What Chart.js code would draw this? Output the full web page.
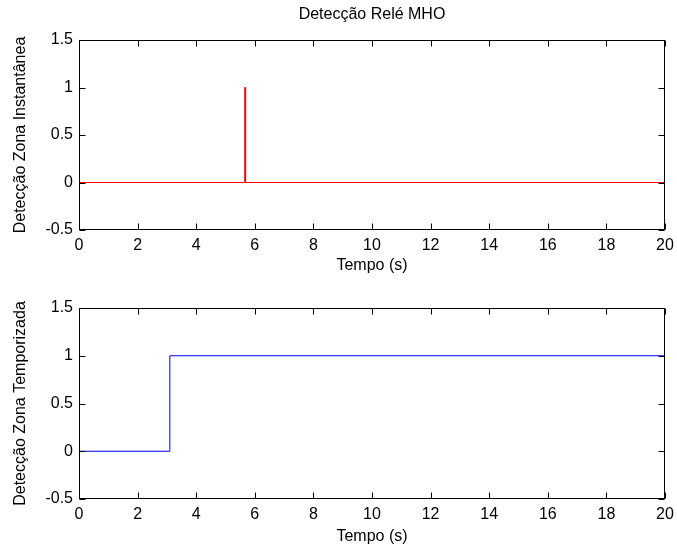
<!DOCTYPE html>
<html>
<head>
<meta charset="utf-8">
<script src="https://cdn.jsdelivr.net/npm/chart.js@4"></script>
<style>
  body { margin: 0; background: #fff; }
  #wrap { position: relative; width: 677px; height: 550px; }
  canvas { position: absolute; left: 0; }
</style>
</head>
<body>
<div id="wrap">
  <canvas id="inst" width="677" height="275" style="top:0px"></canvas>
  <canvas id="temp" width="677" height="282" style="top:268px"></canvas>
</div>
<script>
// Detecção zona instantânea (pulso curto)
let tempoInst = [0, 5.655, 5.655, 5.685, 5.685, 20];
let detInst = [0, 0, 1, 1, 0, 0];

// Detecção zona temporizada (degrau)
let tempoTemp = [0, 3.1, 3.1, 20];
let detTemp = [0, 0, 1, 1];

let xTicks = [0, 2, 4, 6, 8, 10, 12, 14, 16, 18, 20];
let yTicks = [-0.5, 0, 0.5, 1, 1.5];

const FONT = 'Arial, "Liberation Sans", Helvetica, sans-serif';
Chart.defaults.font.family = FONT;
Chart.defaults.font.size = 16;
Chart.defaults.color = '#000';

// caixa em volta do gráfico com marcas para dentro (estilo MATLAB)
const boxTicks = {
    id: 'boxTicks',
    afterDatasetsDraw(chart) {
        const ctx = chart.ctx;
        const a = chart.chartArea;
        const xs = chart.scales.x, ys = chart.scales.y;
        const L = Math.round(a.left) + 0.5, R = Math.round(a.right) - 0.5;
        const T = Math.round(a.top) + 0.5, B = Math.round(a.bottom) - 0.5;
        const len = 6;
        ctx.save();
        ctx.strokeStyle = '#000';
        ctx.lineWidth = 1;
        ctx.beginPath();
        xTicks.forEach(v => {
            const px = Math.round(xs.getPixelForValue(v)) + 0.5;
            ctx.moveTo(px, B); ctx.lineTo(px, B - len);
            ctx.moveTo(px, T); ctx.lineTo(px, T + len);
        });
        yTicks.forEach(v => {
            const py = Math.round(ys.getPixelForValue(v)) + 0.5;
            ctx.moveTo(L, py); ctx.lineTo(L + len, py);
            ctx.moveTo(R, py); ctx.lineTo(R - len, py);
        });
        ctx.stroke();
        ctx.strokeRect(L, T, R - L, B - T);
        ctx.restore();
    }
};

function makeChart(id, xs, ys, color, yTitle, title, xAxisH, xTitlePad) {
    const points = xs.map((x, i) => ({ x: x, y: ys[i] }));
    return new Chart(document.getElementById(id), {
        type: 'line',
        data: {
            datasets: [{
                data: points,
                borderColor: color,
                borderWidth: 1,
                pointRadius: 0,
                tension: 0,
                fill: false
            }]
        },
        options: {
            responsive: false,
            animation: false,
            layout: { padding: { top: title ? 0 : 40, right: 12, left: 0, bottom: 0 } },
            plugins: {
                legend: { display: false },
                tooltip: { enabled: false },
                title: {
                    display: !!title,
                    text: title,
                    fullSize: false,
                    font: { size: 16, weight: 'normal' },
                    padding: { top: 5, bottom: 15.8 }
                }
            },
            scales: {
                x: {
                    type: 'linear',
                    min: 0, max: 20,
                    afterBuildTicks: s => { s.ticks = xTicks.map(v => ({ value: v })); },
                    afterFit: s => { s.height = xAxisH; s.paddingLeft = 0; s.paddingRight = 0; },
                    grid: { display: false, drawTicks: false },
                    border: { display: false },
                    ticks: { padding: 6, maxRotation: 0, callback: v => String(v) },
                    title: { display: true, text: 'Tempo (s)', padding: { top: 0, bottom: xTitlePad } }
                },
                y: {
                    min: -0.5, max: 1.5,
                    afterBuildTicks: s => { s.ticks = yTicks.map(v => ({ value: v })); },
                    afterFit: s => { s.width = 79; s.paddingTop = 0; s.paddingBottom = 0; },
                    grid: { display: false, drawTicks: false },
                    border: { display: false },
                    ticks: { padding: 6, callback: v => String(v) },
                    title: { display: true, text: yTitle, padding: { top: 11, bottom: 0 } }
                }
            }
        },
        plugins: [boxTicks]
    });
}

makeChart('inst', tempoInst, detInst, '#ff0000', 'Detecção Zona Instantânea', 'Detecção Relé MHO', 45, 0);
makeChart('temp', tempoTemp, detTemp, '#0000ff', 'Detecção Zona Temporizada', '', 51, 3.4);
</script>
</body>
</html>
